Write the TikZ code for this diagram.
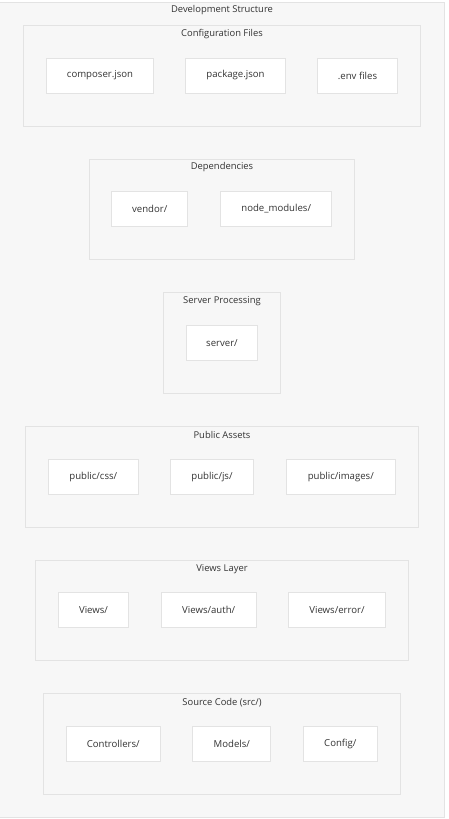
\documentclass[tikz,border=0pt]{standalone}
\usepackage{fontspec}
\setmainfont{Open Sans}
\definecolor{bgc}{HTML}{F7F7F7}
\definecolor{bdc}{HTML}{E3E3E3}
\definecolor{txc}{HTML}{333333}
\tikzset{
  grp/.style={draw=bdc, fill=bgc, line width=0.8pt},
  item/.style={draw=bdc, fill=white, line width=0.8pt, minimum height=35pt, inner sep=0pt, text=txc, font=\fontsize{9.6}{11}\selectfont},
  gtitle/.style={text=txc, font=\fontsize{9.4}{11}\selectfont, inner sep=0pt},
}
\begin{document}
\begin{tikzpicture}[x=1pt,y=-1pt]
\useasboundingbox (0,0) rectangle (449,819);
\fill[white] (0,0) rectangle (449,819);
% outer
\draw[grp] (-2,2.5) rectangle (444.5,817) ;
\node[gtitle] (tdev) at (222,10) {Development Structure};
% Configuration Files
\draw[grp] (23.5,25.5) rectangle (420,126);
\node[gtitle] (tcfg) at (222,34) {Configuration Files};
\node[item, minimum width=107pt] (composer) at (100,75.5) {composer.json};
\node[item, minimum width=100pt] (package) at (235.5,75.5) {package.json};
\node[item, minimum width=80pt] (env) at (357.5,75.5) {.env files};
% Dependencies
\draw[grp] (89,159) rectangle (354.5,259.5);
\node[gtitle] (tdep) at (222,167.5) {Dependencies};
\node[item, minimum width=76pt] (vendor) at (149.7,209) {vendor/};
\node[item, minimum width=111pt] (nodemod) at (276.2,209) {node\_modules/};
% Server Processing
\draw[grp] (163.5,292.5) rectangle (280.5,393);
\node[gtitle] (tsrv) at (222,301) {Server Processing};
\node[item, minimum width=71pt] (server) at (222,343) {server/};
% Public Assets
\draw[grp] (25.5,426.5) rectangle (418,527);
\node[gtitle] (tpub) at (222,435) {Public Assets};
\node[item, minimum width=90pt] (css) at (93.3,476.7) {public/css/};
\node[item, minimum width=83pt] (js) at (212,476.7) {public/js/};
\node[item, minimum width=109pt] (images) at (340.8,476.7) {public/images/};
% Views Layer
\draw[grp] (35.5,560) rectangle (408.5,660.5);
\node[gtitle] (tview) at (222,569) {Views Layer};
\node[item, minimum width=70pt] (views) at (93.5,610.3) {Views/};
\node[item, minimum width=95pt] (vauth) at (208.7,610.3) {Views/auth/};
\node[item, minimum width=97pt] (verror) at (337,610.3) {Views/error/};
% Source Code
\draw[grp] (43.5,693.5) rectangle (400.5,794);
\node[gtitle] (tsrc) at (222,703) {Source Code (src/)};
\node[item, minimum width=94pt] (ctrl) at (113.3,744) {Controllers/};
\node[item, minimum width=78pt] (models) at (231.8,744) {Models/};
\node[item, minimum width=74pt] (config) at (340.3,744) {Config/};
\end{tikzpicture}
\end{document}
